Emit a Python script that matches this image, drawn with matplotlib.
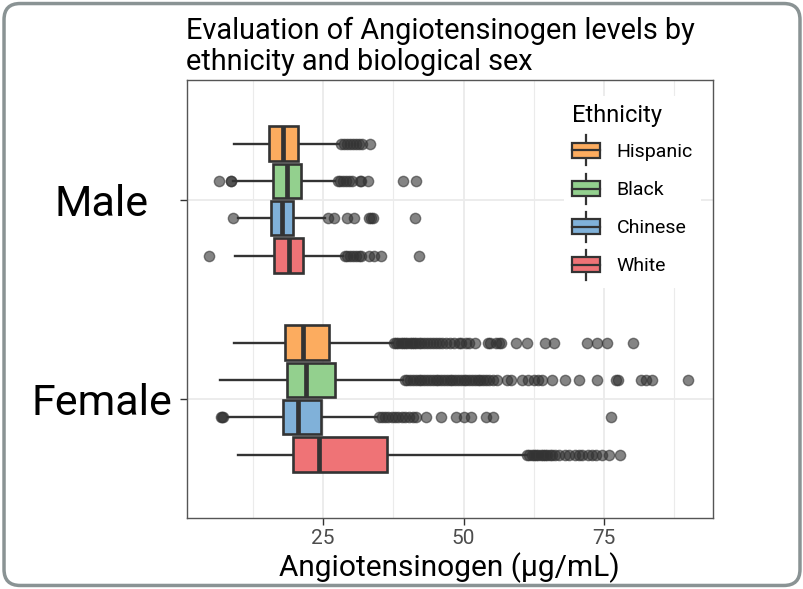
import matplotlib
matplotlib.use("Agg")
import matplotlib.pyplot as plt
from matplotlib.patches import Rectangle, FancyBboxPatch
from matplotlib.lines import Line2D
from matplotlib.legend_handler import HandlerBase

plt.rcParams['font.family'] = ['Roboto', 'DejaVu Sans']

# ethnic groups, top to bottom inside each sex
groups = ["Hispanic", "Black", "Chinese", "White"]
colors = ["#FCAC5F", "#93D08E", "#80B1D9", "#EF7376"]
sexes = ["Female", "Male"]

# box statistics (µg/mL), order = groups
male_q1 = [15.4, 16.1, 15.7, 16.3]
male_med = [17.9, 18.5, 17.7, 18.9]
male_q3 = [20.6, 21.0, 19.7, 21.5]
male_lo = [9.2, 8.9, 9.8, 9.3]
male_hi = [27.8, 27.2, 25.4, 28.6]
male_out = [
    [28.2, 28.7, 29.2, 29.8, 30.3, 30.8, 31.4, 32.0, 33.3],
    [6.5, 8.6, 8.7, 27.6, 28.0, 28.5, 29.0, 29.6, 30.2, 31.5, 31.8, 32.9, 39.2, 41.6],
    [9.0, 25.9, 26.9, 29.3, 30.5, 33.1, 33.6, 33.9, 41.4],
    [4.7, 28.9, 29.3, 29.8, 30.3, 30.8, 31.3, 31.7, 33.2, 34.1, 35.3, 42.0],
]

female_q1 = [18.2, 18.6, 17.8, 19.7]
female_med = [21.4, 21.9, 20.5, 24.2]
female_q3 = [26.1, 27.1, 24.6, 36.4]
female_lo = [9.1, 6.6, 8.0, 9.8]
female_hi = [37.4, 39.3, 34.6, 61.2]
female_out = [
    [37.6, 38.0, 38.4, 38.8, 39.2, 39.6, 40.0, 40.4, 40.8, 41.2, 41.6, 42.0, 42.5, 43.0,
     43.5, 44.0, 44.5, 45.0, 45.6, 46.2, 46.8, 47.5, 48.3, 49.1, 49.6, 50.4, 50.9, 52.1,
     54.3, 54.7, 55.8, 56.3, 56.6, 59.3, 61.2, 64.5, 66.1, 72.0, 73.8, 75.5, 80.1],
    [39.5, 40.0, 40.5, 41.0, 41.5, 42.0, 42.5, 43.0, 43.5, 44.0, 44.5, 45.0, 45.5, 46.0,
     46.5, 47.0, 47.5, 48.0, 48.5, 49.0, 49.5, 50.0, 50.5, 51.0, 51.5, 52.0, 52.5, 53.0,
     53.5, 54.0, 54.5, 55.2, 56.0, 57.8, 58.4, 60.4, 61.4, 62.5, 63.2, 64.0, 65.8, 68.0,
     70.5, 73.8, 77.2, 77.5, 81.5, 82.4, 83.6, 90.0],
    [6.9, 7.0, 7.2, 34.9, 35.4, 36.0, 36.6, 37.2, 37.8, 38.4, 39.0, 39.6, 40.3, 41.0,
     41.6, 43.3, 45.9, 48.6, 50.0, 51.3, 53.9, 55.3, 76.3],
    [61.3, 61.7, 62.1, 62.5, 62.9, 63.3, 63.7, 64.1, 64.5, 64.9, 65.3, 65.7, 66.2, 67.0,
     68.1, 68.8, 69.8, 70.5, 71.1, 72.2, 72.9, 73.5, 74.7, 75.8, 77.9],
]

fig = plt.figure(figsize=(8.04, 5.89), dpi=100)
ax = fig.add_axes([0.232, 0.1205, 0.655, 0.7435])

# dodge offsets like ggplot (width 0.75, 4 groups)
offsets = [0.28125, 0.09375, -0.09375, -0.28125]

def stats(q1, med, q3, lo, hi, out, label):
    return [dict(q1=q1[i], med=med[i], q3=q3[i], whislo=lo[i], whishi=hi[i],
                 fliers=out[i], label=label) for i in range(len(groups))]

flier_style = dict(marker='o', markersize=7.4, markerfacecolor='#333333',
                   markeredgecolor='#333333', alpha=0.6, linestyle='none')

for base, st in [(2, stats(male_q1, male_med, male_q3, male_lo, male_hi, male_out, "Male")),
                 (1, stats(female_q1, female_med, female_q3, female_lo, female_hi, female_out, "Female"))]:
    pos = [base + o for o in offsets]
    bp = ax.bxp(st, positions=pos, widths=0.172, orientation='horizontal',
                patch_artist=True, showcaps=False, manage_ticks=False,
                boxprops=dict(edgecolor='#333333', linewidth=1.9),
                whiskerprops=dict(color='#333333', linewidth=1.7),
                medianprops=dict(color='#333333', linewidth=3.4, solid_capstyle='butt'),
                flierprops=flier_style)
    for patch, c in zip(bp['boxes'], colors):
        patch.set_facecolor(c)
    for w in bp['whiskers']:
        w.set_zorder(1)

ax.set_xlim(0.7, 94.4)
ax.set_ylim(0.4, 2.6)
ax.set_xticks([25, 50, 75])
ax.set_xticks([12.5, 37.5, 62.5, 87.5], minor=True)
ax.set_yticks([1, 2])
ax.set_yticklabels(sexes, fontsize=31, color='black')
for lbl in ax.get_yticklabels():
    lbl.set_horizontalalignment('center')
ax.tick_params(axis='x', labelsize=15, labelcolor='#4D4D4D', length=5, width=1, color='#333333', pad=3)
ax.tick_params(axis='x', which='minor', length=0)
ax.tick_params(axis='y', length=5, width=1, color='#333333', pad=56)
ax.grid(True, which='major', color='#EBEBEB', linewidth=1.3, zorder=0)
ax.grid(True, which='minor', axis='x', color='#EBEBEB', linewidth=0.8, zorder=0)
ax.set_axisbelow(True)
for sp in ax.spines.values():
    sp.set_color('#555555')
    sp.set_linewidth(1.0)

ax.set_xlabel("Angiotensinogen (µg/mL)", fontsize=21.5, color='black', labelpad=3)

fig.text(0.2313, 0.972, "Evaluation of Angiotensinogen levels by\nethnicity and biological sex",
         ha='left', va='top', fontsize=20.8, linespacing=1.15, color='black')


class BoxKey(HandlerBase):
    def create_artists(self, legend, orig_handle, xdescent, ydescent, width, height, fontsize, trans):
        cx = width / 2 - xdescent
        bw = width
        bh = height * 0.5
        y0 = -ydescent
        whisk = Line2D([cx, cx], [y0, y0 + height], color='#333333', linewidth=1.6, transform=trans)
        box = Rectangle((cx - bw / 2, y0 + (height - bh) / 2), bw, bh,
                        facecolor=orig_handle.get_facecolor(), edgecolor='#333333',
                        linewidth=1.6, transform=trans)
        mid = Line2D([cx - bw / 2, cx + bw / 2], [y0 + height / 2] * 2, color='#333333',
                     linewidth=1.6, transform=trans)
        return [whisk, box, mid]


handles = [Rectangle((0, 0), 1, 1, facecolor=c) for c in colors]
leg = ax.legend(handles, groups, title="Ethnicity", loc='upper right',
                bbox_to_anchor=(0.995, 0.985), frameon=True, fontsize=14,
                title_fontsize=17, handler_map={Rectangle: BoxKey()},
                handlelength=1.45, handleheight=2.0, labelspacing=0.42,
                handletextpad=0.85, borderpad=0.4)
leg.get_frame().set_edgecolor('none')
leg.get_frame().set_facecolor('white')
leg.get_frame().set_alpha(1)
leg._legend_box.align = "left"

# card frame around the figure
frame = FancyBboxPatch((0.005, 0.006), 0.99, 0.988, boxstyle="round,pad=0,rounding_size=0.02",
                       transform=fig.transFigure, facecolor='none', edgecolor='#8A9394',
                       linewidth=2.5, mutation_aspect=804 / 589)
fig.patches.append(frame)

fig.savefig("out.png", dpi=100)
